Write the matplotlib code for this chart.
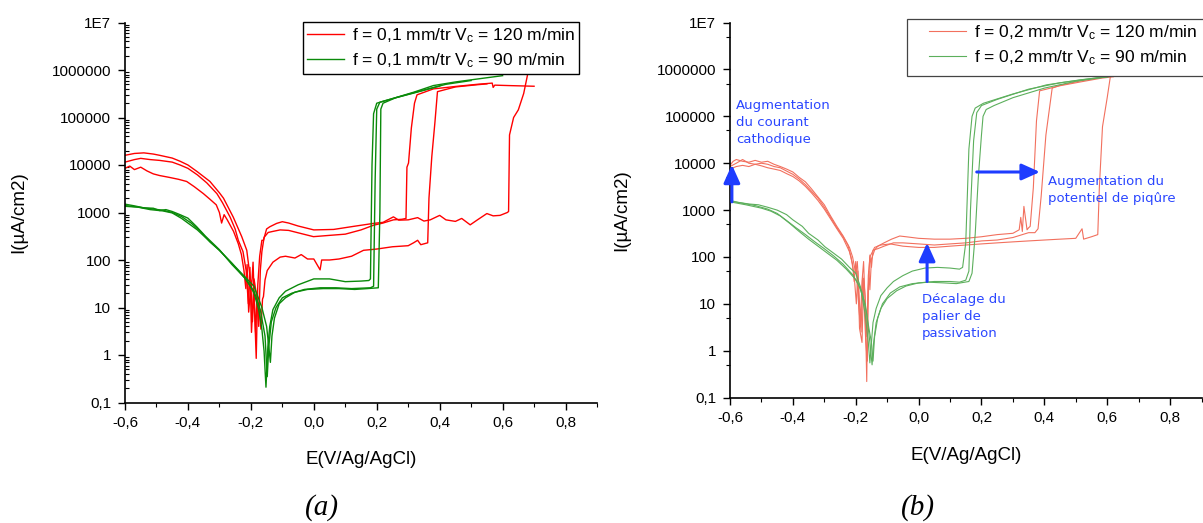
import numpy as np
import matplotlib
matplotlib.use("Agg")
import matplotlib.pyplot as plt
from matplotlib.patches import Rectangle
from matplotlib.ticker import LogLocator, NullFormatter, MultipleLocator

plt.rcParams['font.family'] = ['Liberation Sans', 'DejaVu Sans']
plt.rcParams['mathtext.default'] = 'regular'

# ---------------- panel (a) : f = 0,1 mm/tr ----------------
# 120 m/min (red), three scans
a_r1_x = [-0.60, -0.57, -0.54, -0.51, -0.49, -0.45, -0.425, -0.40, -0.37, -0.33, -0.30, -0.287, -0.256,
          -0.229, -0.213, -0.205, -0.198, -0.193, -0.188, -0.183, -0.178, -0.172, -0.165, -0.16, -0.15,
          -0.14, -0.118, -0.10, -0.08, -0.05, 0.0, 0.063, 0.126, 0.19, 0.22, 0.253, 0.27, 0.30, 0.33,
          0.35, 0.37, 0.40, 0.42, 0.45, 0.47, 0.497, 0.52, 0.55, 0.57, 0.592, 0.615, 0.619, 0.622,
          0.635, 0.65, 0.667, 0.678, 0.688, 0.70]
a_r1_y = [1.6e4, 1.75e4, 1.8e4, 1.7e4, 1.6e4, 1.4e4, 1.2e4, 1.0e4, 7.2e3, 4.5e3, 2.6e3, 2.0e3, 800,
          310, 160, 60, 25, 90, 8, 0.85, 30, 120, 260, 260, 450,
          500, 590, 640, 600, 520, 430, 440, 510, 590, 620, 810, 690, 700, 780,
          660, 700, 870, 700, 650, 750, 550, 700, 950, 850, 870, 1000, 1050, 4.3e4,
          1.0e5, 1.45e5, 3.2e5, 7.2e5, 1.6e6, 3.0e6]

a_r2_x = [-0.60, -0.57, -0.55, -0.52, -0.49, -0.45, -0.425, -0.40, -0.37, -0.34, -0.308, -0.29, -0.266,
          -0.25, -0.24, -0.225, -0.215, -0.208, -0.203, -0.198, -0.19, -0.18, -0.175, -0.17, -0.165,
          -0.158, -0.145, -0.13, -0.107, -0.08, -0.04, -0.001, 0.05, 0.10, 0.15, 0.19, 0.22, 0.253,
          0.28, 0.293, 0.296, 0.301, 0.31, 0.32, 0.328, 0.38, 0.45, 0.52, 0.56, 0.567, 0.57, 0.575,
          0.62, 0.70]
a_r2_y = [1.15e4, 1.3e4, 1.38e4, 1.3e4, 1.25e4, 1.15e4, 1.0e4, 8.5e3, 6.2e3, 4.2e3, 2.5e3, 1.6e3, 800,
          450, 260, 150, 60, 12, 70, 3, 40, 15, 4, 60, 150,
          300, 380, 400, 430, 420, 360, 310, 330, 350, 430, 540, 600, 700,
          720, 750, 9e3, 1.1e4, 6e4, 2e5, 3e5, 4e5, 4.5e5, 5e5, 5.25e5, 5.3e5, 4.3e5, 4.8e5,
          4.7e5, 4.55e5]

a_r3_x = [-0.60, -0.585, -0.57, -0.55, -0.53, -0.51, -0.49, -0.46, -0.43, -0.404, -0.38, -0.351, -0.33,
          -0.31, -0.30, -0.293, -0.285, -0.275, -0.255, -0.24, -0.23, -0.222, -0.216, -0.212, -0.207,
          -0.20, -0.195, -0.19, -0.185, -0.18, -0.172, -0.168, -0.163, -0.16, -0.155, -0.148, -0.13,
          -0.107, -0.09, -0.06, -0.04, -0.02, 0.0, 0.02, 0.025, 0.05, 0.08, 0.12, 0.158, 0.20, 0.25,
          0.30, 0.317, 0.33, 0.34, 0.362, 0.366, 0.375, 0.385, 0.393, 0.45, 0.52, 0.55]
a_r3_y = [8500, 9500, 8000, 9000, 7500, 6500, 6000, 5500, 5000, 4500, 3500, 2500, 1900,
          1450, 1000, 600, 900, 700, 400, 220, 130, 60, 25, 80, 8,
          30, 5, 20, 3, 17, 8, 3.5, 15, 17, 38, 60, 90,
          115, 120, 110, 130, 105, 105, 62, 100, 100, 105, 120, 160, 170, 190,
          200, 230, 260, 210, 230, 2000, 1.5e4, 8e4, 3.5e5, 4.4e5, 4.9e5, 5.1e5]

# 90 m/min (green), three scans
a_g1_x = [-0.60, -0.57, -0.54, -0.51, -0.49, -0.47, -0.45, -0.425, -0.40, -0.372, -0.345, -0.30, -0.26,
          -0.213, -0.19, -0.175, -0.165, -0.158, -0.152, -0.146, -0.14, -0.13, -0.11, -0.09, -0.05, 0.0,
          0.05, 0.10, 0.15, 0.175, 0.18, 0.185, 0.19, 0.20, 0.25, 0.317, 0.38, 0.45, 0.53, 0.60]
a_g1_y = [1500, 1380, 1250, 1230, 1100, 1150, 1050, 900, 760, 500, 320, 165, 80,
          38, 20, 9, 3.5, 1.2, 0.21, 1.5, 4, 9, 16, 22, 30, 40,
          40, 35, 36, 37, 40, 1e4, 1.2e5, 2e5, 2.5e5, 3.4e5, 4.7e5, 5.6e5, 6.6e5, 7.6e5]

a_g2_x = [-0.60, -0.55, -0.51, -0.48, -0.45, -0.42, -0.39, -0.36, -0.33, -0.30, -0.26, -0.22, -0.19,
          -0.17, -0.155, -0.148, -0.143, -0.135, -0.12, -0.10, -0.07, -0.03, 0.02, 0.07, 0.12, 0.18,
          0.19, 0.195, 0.20, 0.21, 0.25, 0.32, 0.40]
a_g2_y = [1400, 1280, 1180, 1120, 1000, 820, 600, 400, 240, 160, 85, 42, 22,
          9, 2.5, 0.35, 1.5, 5, 10, 16, 20, 24, 26, 26, 25, 26,
          28, 5e3, 1.5e5, 2.1e5, 2.5e5, 3.3e5, 4.6e5]

a_g3_x = [-0.60, -0.56, -0.52, -0.48, -0.45, -0.42, -0.40, -0.37, -0.34, -0.30, -0.26, -0.22, -0.19,
          -0.165, -0.15, -0.143, -0.138, -0.133, -0.125, -0.11, -0.09, -0.06, -0.02, 0.03, 0.08, 0.13,
          0.17, 0.205, 0.21, 0.213, 0.22, 0.26, 0.33, 0.42, 0.50]
a_g3_y = [1350, 1300, 1150, 1080, 980, 750, 600, 430, 280, 160, 85, 45, 28,
          10, 4, 1.5, 0.7, 2.5, 6, 12, 16, 21, 24, 25, 25, 24,
          25, 26, 1e3, 1.5e5, 2e5, 2.6e5, 3.5e5, 5e5, 6e5]

# ---------------- panel (b) : f = 0,2 mm/tr ----------------
b_r1_x = [-0.60, -0.59, -0.58, -0.56, -0.54, -0.52, -0.50, -0.48, -0.46, -0.44, -0.42, -0.40, -0.38,
          -0.36, -0.34, -0.32, -0.30, -0.28, -0.26, -0.24, -0.22, -0.21, -0.20, -0.195, -0.19, -0.185,
          -0.18, -0.175, -0.17, -0.165, -0.162, -0.158, -0.155, -0.15, -0.14, -0.13, -0.11, -0.086,
          -0.06, -0.04, 0.0, 0.05, 0.10, 0.15, 0.20, 0.25, 0.30, 0.32, 0.325, 0.33, 0.335, 0.345,
          0.35, 0.355, 0.365, 0.375, 0.385, 0.45, 0.52, 0.58, 0.62]
b_r1_y = [9000, 1.1e4, 1.2e4, 1.1e4, 1.05e4, 1.15e4, 1.05e4, 1.1e4, 9500, 8500, 7500, 6500, 5000,
          4000, 2800, 1900, 1300, 750, 450, 280, 160, 100, 45, 80, 20, 4,
          30, 80, 10, 0.22, 8, 50, 20, 90, 140, 170, 200, 240,
          280, 270, 250, 240, 240, 250, 270, 300, 320, 380, 700, 350, 1200, 380,
          420, 450, 3e3, 8e4, 3.5e5, 4.5e5, 5.5e5, 6.5e5, 7e5]

b_r2_x = [-0.60, -0.58, -0.56, -0.54, -0.52, -0.50, -0.48, -0.46, -0.44, -0.42, -0.40, -0.38, -0.36,
          -0.34, -0.32, -0.30, -0.28, -0.26, -0.24, -0.22, -0.21, -0.205, -0.20, -0.19, -0.183, -0.178,
          -0.172, -0.168, -0.163, -0.16, -0.155, -0.15, -0.145, -0.13, -0.11, -0.08, -0.05, 0.0, 0.05,
          0.10, 0.15, 0.20, 0.25, 0.30, 0.33, 0.35, 0.37, 0.38, 0.39, 0.405, 0.425, 0.45, 0.52, 0.60]
b_r2_y = [7500, 8500, 9000, 8500, 9500, 8800, 8000, 7500, 7000, 6000, 5200, 4200, 3200,
          2300, 1600, 1050, 650, 400, 250, 130, 70, 30, 80, 8, 2.5, 40,
          6, 1.5, 0.6, 20, 110, 60, 140, 150, 170, 200, 200, 190, 180,
          190, 200, 220, 230, 260, 300, 330, 330, 400, 2e3, 4e4, 4e5, 4.6e5, 5.8e5, 7e5]

b_r3_x = [-0.60, -0.58, -0.56, -0.54, -0.52, -0.50, -0.48, -0.46, -0.44, -0.42, -0.40, -0.38, -0.36,
          -0.34, -0.32, -0.30, -0.28, -0.26, -0.24, -0.225, -0.215, -0.205, -0.198, -0.193, -0.188,
          -0.18, -0.175, -0.17, -0.165, -0.16, -0.155, -0.14, -0.12, -0.09, -0.05, 0.0, 0.05, 0.10,
          0.15, 0.20, 0.25, 0.30, 0.35, 0.40, 0.45, 0.50, 0.52, 0.525, 0.55, 0.57, 0.575, 0.585,
          0.60, 0.61, 0.62]
b_r3_y = [8500, 1e4, 1.2e4, 1e4, 9500, 1e4, 9500, 8500, 8000, 6800, 5800, 4600, 3500,
          2500, 1800, 1150, 700, 420, 270, 180, 100, 40, 10, 50, 3,
          1.5, 35, 15, 2, 40, 100, 160, 180, 190, 170, 160, 160, 170,
          180, 190, 200, 210, 220, 230, 240, 250, 400, 240, 270, 300, 3000, 6e4,
          2.5e5, 7e5, 1.2e6]

b_g1_x = [-0.60, -0.57, -0.54, -0.51, -0.48, -0.45, -0.42, -0.40, -0.37, -0.35, -0.32, -0.298, -0.27,
          -0.245, -0.22, -0.20, -0.185, -0.17, -0.16, -0.155, -0.15, -0.145, -0.135, -0.12, -0.10,
          -0.08, -0.05, -0.02, 0.02, 0.06, 0.10, 0.13, 0.14, 0.15, 0.155, 0.16, 0.17, 0.18, 0.206,
          0.30, 0.407, 0.513, 0.60]
b_g1_y = [1600, 1450, 1350, 1300, 1150, 1000, 800, 620, 450, 320, 230, 165, 120,
          90, 60, 45, 23, 6, 1.5, 0.55, 1.5, 4, 8, 15, 22,
          30, 40, 50, 58, 60, 58, 55, 60, 200, 2e3, 2e4, 1e5, 1.5e5, 1.9e5,
          3e5, 4.7e5, 6e5, 7e5]

b_g2_x = [-0.60, -0.55, -0.50, -0.47, -0.44, -0.41, -0.38, -0.35, -0.32, -0.29, -0.26, -0.23, -0.20,
          -0.18, -0.165, -0.155, -0.148, -0.143, -0.135, -0.12, -0.10, -0.07, -0.04, 0.0, 0.05, 0.10,
          0.13, 0.15, 0.16, 0.165, 0.175, 0.185, 0.20, 0.25, 0.35, 0.45, 0.55, 0.62]
b_g2_y = [1500, 1300, 1100, 950, 750, 520, 350, 240, 170, 120, 85, 55, 33,
          18, 6, 1.5, 0.5, 1.5, 4, 8, 13, 19, 24, 28, 30, 30,
          29, 32, 50, 1e3, 3e4, 1.2e5, 1.7e5, 2.3e5, 3.8e5, 5.2e5, 6.4e5, 7.2e5]

b_g3_x = [-0.60, -0.56, -0.52, -0.48, -0.45, -0.42, -0.39, -0.36, -0.33, -0.30, -0.27, -0.24, -0.21,
          -0.19, -0.17, -0.158, -0.15, -0.145, -0.14, -0.13, -0.115, -0.09, -0.06, -0.02, 0.03, 0.08,
          0.12, 0.16, 0.17, 0.18, 0.19, 0.20, 0.205, 0.215, 0.24, 0.30, 0.40, 0.50, 0.60]
b_g3_y = [1550, 1400, 1250, 1050, 850, 600, 420, 300, 210, 150, 105, 70, 42,
          25, 10, 3, 1.5, 0.6, 2, 5, 10, 17, 23, 27, 29, 28,
          27, 30, 45, 300, 5e3, 4e4, 1e5, 1.4e5, 1.7e5, 2.5e5, 4e5, 5.6e5, 7e5]

# axis ticks / labels
x_ticks = [-0.6, -0.4, -0.2, 0.0, 0.2, 0.4, 0.6, 0.8]
x_labels = ['-0,6', '-0,4', '-0,2', '0,0', '0,2', '0,4', '0,6', '0,8']
y_ticks = [0.1, 1, 10, 100, 1000, 1e4, 1e5, 1e6, 1e7]
y_labels = ['0,1', '1', '10', '100', '1000', '10000', '100000', '1000000', '1E7']

legend_a = ['f = 0,1 mm/tr V$_c$ = 120 m/min', 'f = 0,1 mm/tr V$_c$ = 90 m/min']
legend_b = ['f = 0,2 mm/tr V$_c$ = 120 m/min', 'f = 0,2 mm/tr V$_c$ = 90 m/min']

W, H = 1203, 523
fig = plt.figure(figsize=(W / 100, H / 100), dpi=100)
axa = fig.add_axes([125 / W, 1 - 402.5 / H, 472 / W, 380 / H])
axb = fig.add_axes([730 / W, 1 - 397.6 / H, 471.5 / W, 375 / H])

red_a, green_a = '#ff0000', '#0a8a0a'
red_b, green_b = '#f2705e', '#5caf5c'

for xs, ys in [(a_r1_x, a_r1_y), (a_r2_x, a_r2_y), (a_r3_x, a_r3_y)]:
    la_r, = axa.plot(xs, ys, color=red_a, lw=1.0)
for xs, ys in [(a_g1_x, a_g1_y), (a_g2_x, a_g2_y), (a_g3_x, a_g3_y)]:
    la_g, = axa.plot(xs, ys, color=green_a, lw=1.0)

for xs, ys in [(b_r1_x, b_r1_y), (b_r2_x, b_r2_y), (b_r3_x, b_r3_y)]:
    lb_r, = axb.plot(xs, ys, color=red_b, lw=0.8)
for xs, ys in [(b_g1_x, b_g1_y), (b_g2_x, b_g2_y), (b_g3_x, b_g3_y)]:
    lb_g, = axb.plot(xs, ys, color=green_b, lw=0.8)

for ax, dense in [(axa, True), (axb, False)]:
    ax.set_yscale('log')
    ax.set_xlim(-0.6, 0.9)
    ax.set_ylim(0.1, 1e7)
    ax.set_xticks(x_ticks, x_labels)
    ax.set_yticks(y_ticks, y_labels)
    ax.xaxis.set_minor_locator(MultipleLocator(0.1))
    if dense:
        ax.yaxis.set_minor_locator(LogLocator(base=10, subs=np.arange(2, 10), numticks=20))
        ax.tick_params(axis='y', which='minor', direction='in', length=3, width=0.8)
    else:
        ax.yaxis.set_minor_locator(LogLocator(base=10, subs=(5,), numticks=20))
        ax.tick_params(axis='y', which='minor', direction='out', length=3, width=0.8)
    ax.yaxis.set_minor_formatter(NullFormatter())
    ax.tick_params(axis='both', which='major', direction='out', length=5, width=1, labelsize=11, pad=5)
    ax.tick_params(axis='x', which='minor', direction='out', length=3, width=0.8)
    ax.spines['top'].set_visible(False)
    ax.spines['right'].set_visible(False)
    for s in ('left', 'bottom'):
        ax.spines[s].set_linewidth(1.2)
    ax.set_xlabel('E(V/Ag/AgCl)', fontsize=13.5)
    ax.set_ylabel('I(µA/cm2)', fontsize=13.5)

axa.yaxis.set_label_coords((27 - 125) / 472, 0.5)
axa.xaxis.set_label_coords(0.5, (402.5 - 451) / 380)
axb.yaxis.set_label_coords((630 - 730) / 471.5, 0.5)
axb.xaxis.set_label_coords(0.5, (397.6 - 447.5) / 375)

leg_kw = dict(loc='upper left', bbox_transform=fig.transFigure, fontsize=12.5, fancybox=False,
              borderpad=0.25, borderaxespad=0, handlelength=2.1, handletextpad=0.45,
              labelspacing=0.35, framealpha=1)
lga = axa.legend([la_r, la_g], legend_a, bbox_to_anchor=(303 / W, 1 - 22 / H), **leg_kw)
lga.get_frame().set_edgecolor('black')
lga.get_frame().set_linewidth(1.0)

# legend (b): box runs past the right edge of the figure, handles start further in
lgb = axb.legend([lb_r, lb_g], legend_b, bbox_to_anchor=(925 / W, 1 - 19 / H), frameon=False,
                 **leg_kw)
box_b = Rectangle((907 / W, 1 - 76 / H), 310 / W, 57 / H, transform=fig.transFigure,
                  facecolor='white', edgecolor='#444444', lw=0.9, clip_on=False, zorder=4.9)
axb.add_artist(box_b)

# annotations on (b)
blue = '#2a46ff'
arrow_kw = dict(arrowstyle='-|>,head_length=1.0,head_width=0.45', color='#1e3cff', lw=2.2,
                mutation_scale=11, shrinkA=0, shrinkB=0)
axb.annotate('', xy=(-0.594, 9300), xytext=(-0.594, 1500), arrowprops=arrow_kw)
axb.annotate('', xy=(0.386, 6500), xytext=(0.185, 6500), arrowprops=arrow_kw)
axb.annotate('', xy=(0.027, 200), xytext=(0.027, 30), arrowprops=arrow_kw)

txt_kw = dict(color=blue, fontsize=9.5, family='DejaVu Sans', ha='left', va='top', linespacing=1.4)
axb.text(-0.581, 2.3e5, 'Augmentation\ndu courant\ncathodique', **txt_kw)
axb.text(0.412, 5600, 'Augmentation du\npotentiel de piqûre', **txt_kw)
axb.text(0.011, 17, 'Décalage du\npalier de\npassivation', **txt_kw)

fig.text(322 / W, 1 - 508 / H, '(a)', fontsize=21, family='Liberation Serif', style='italic',
         ha='center', va='center')
fig.text(918 / W, 1 - 508 / H, '(b)', fontsize=21, family='Liberation Serif', style='italic',
         ha='center', va='center')

fig.savefig('out.png', dpi=100)
